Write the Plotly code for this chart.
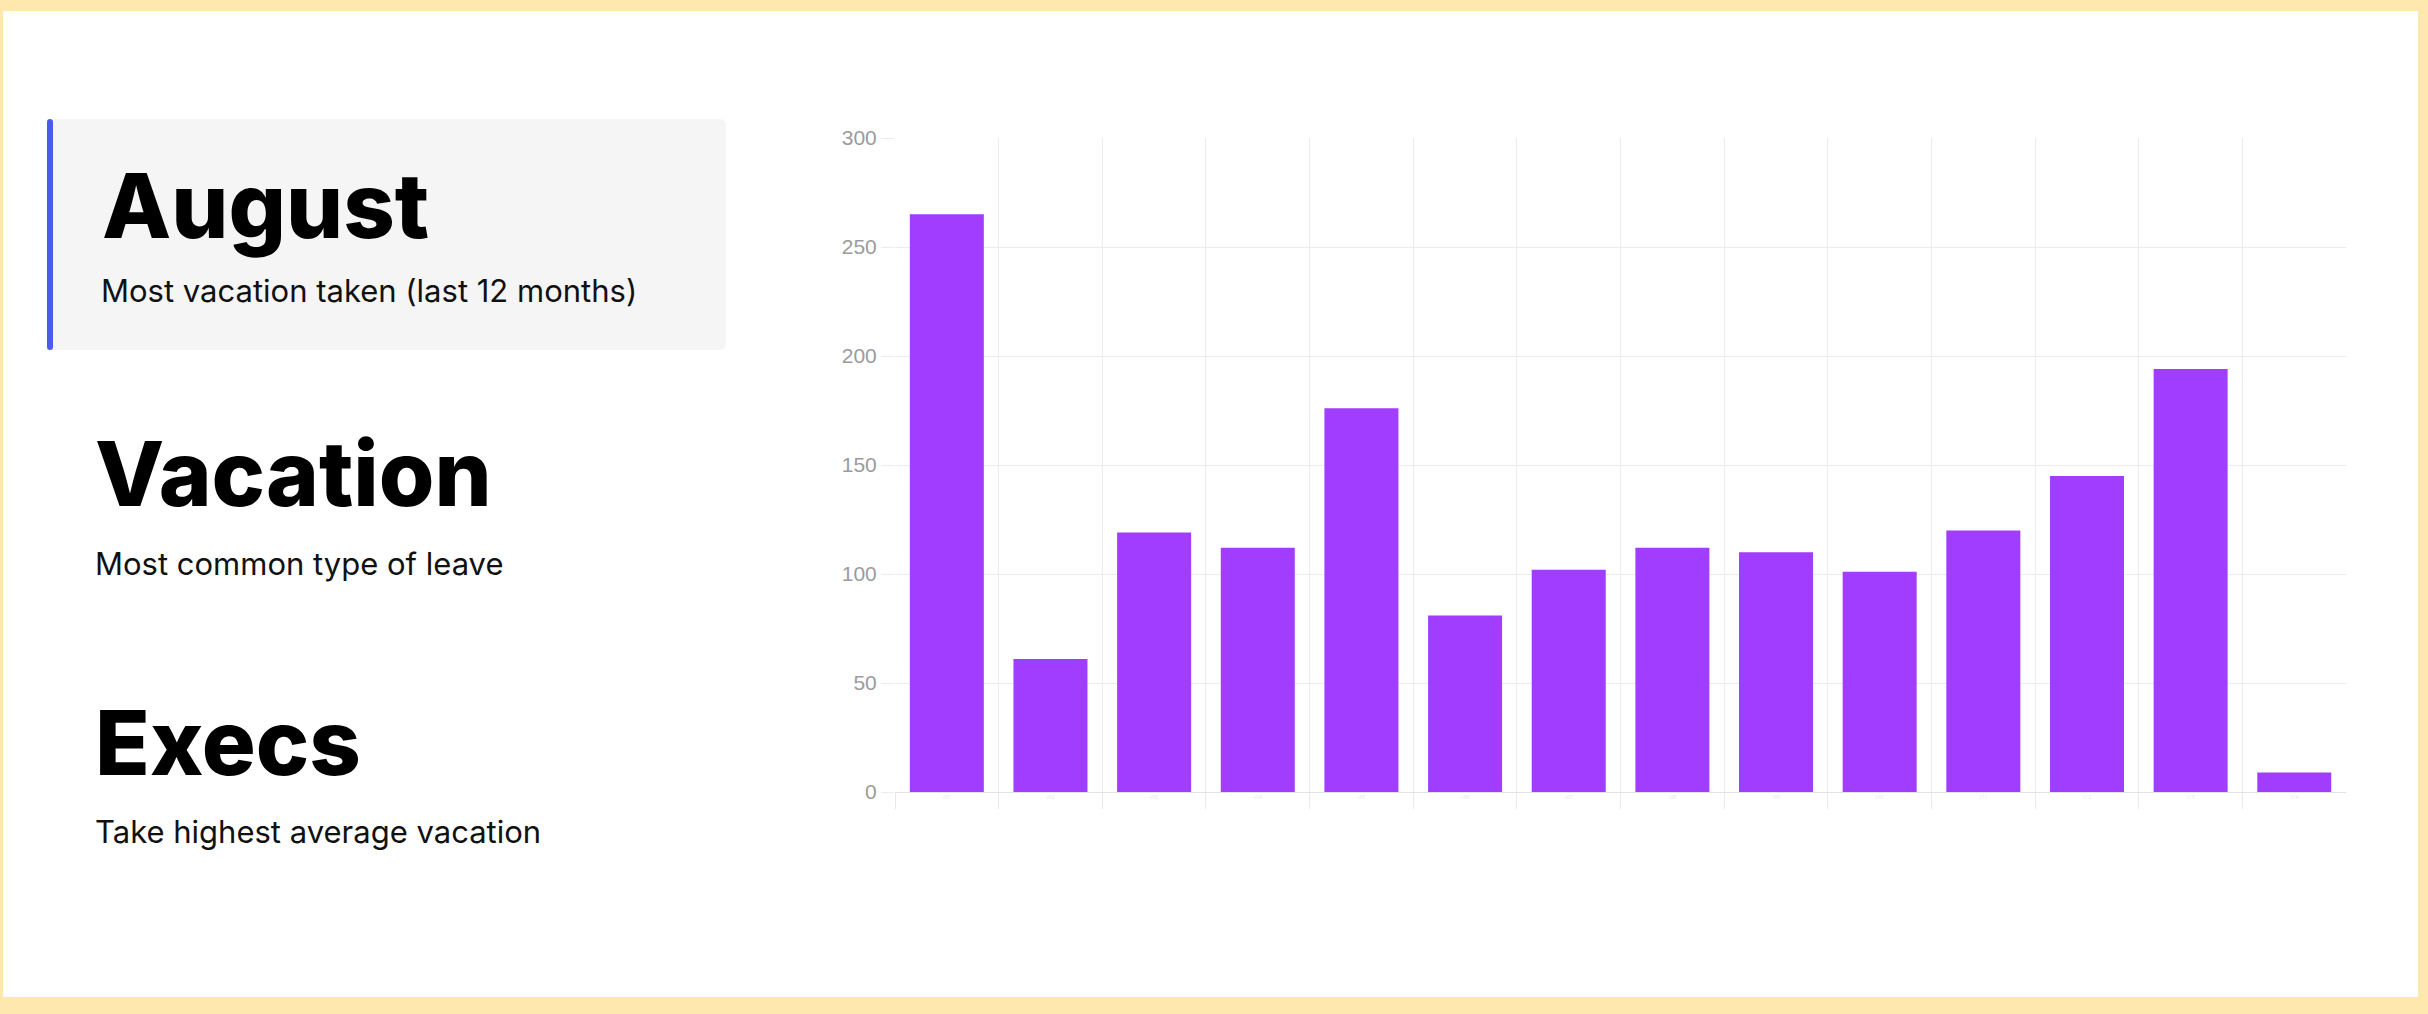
import plotly.graph_objects as go

# data
categories = ["c01", "c02", "c03", "c04", "c05", "c06", "c07",
              "c08", "c09", "c10", "c11", "c12", "c13", "c14"]
days_taken = [265, 61, 119, 112, 176, 81, 102, 112, 110, 101, 120, 145, 194, 9]

headlines = ["August", "Vacation", "Execs"]
sublines = ["Most vacation taken (last 12 months)",
            "Most common type of leave",
            "Take highest average vacation"]

W, H = 2428, 1014
PL, PR, PT, PB = 895, 2346, 138, 792  # plot area in pixels


def px(x):
    return (x - PL) / (PR - PL)


def py(y):
    return (PB - y) / (PB - PT)


def rounded_rect(x0, y0, x1, y1, r):
    # pixel box -> svg path in paper coords, corners rounded by r pixels
    pts = [
        f"M {px(x0 + r)},{py(y0)}",
        f"L {px(x1 - r)},{py(y0)}",
        f"Q {px(x1)},{py(y0)} {px(x1)},{py(y0 + r)}",
        f"L {px(x1)},{py(y1 - r)}",
        f"Q {px(x1)},{py(y1)} {px(x1 - r)},{py(y1)}",
        f"L {px(x0 + r)},{py(y1)}",
        f"Q {px(x0)},{py(y1)} {px(x0)},{py(y1 - r)}",
        f"L {px(x0)},{py(y0 + r)}",
        f"Q {px(x0)},{py(y0)} {px(x0 + r)},{py(y0)}",
        "Z",
    ]
    return " ".join(pts)


fig = go.Figure()
fig.add_trace(go.Bar(
    x=categories,
    y=days_taken,
    marker=dict(color="#a13dfe", line=dict(width=0)),
    hoverinfo="x+y",
))

shapes = [
    # white card inside the yellow frame
    dict(type="rect", xref="paper", yref="paper", layer="below",
         x0=px(3), x1=px(2418), y0=py(997), y1=py(11),
         fillcolor="white", line=dict(width=0)),
    # highlight box
    dict(type="path", xref="paper", yref="paper", layer="below",
         path=rounded_rect(48, 119, 726, 350, 7),
         fillcolor="#f5f5f5", line=dict(width=0)),
    dict(type="path", xref="paper", yref="paper", layer="below",
         path=rounded_rect(47, 119, 53, 350, 3),
         fillcolor="#4a5cf0", line=dict(width=0)),
]

head_pos = [(100, 205), (93, 473), (93, 742)]
sub_pos = [(99, 290), (93, 563), (93, 831)]
annotations = []
for text, (x, y) in zip(headlines, head_pos):
    annotations.append(dict(
        text=text, x=px(x), y=py(y), xref="paper", yref="paper",
        xanchor="left", yanchor="middle", showarrow=False,
        font=dict(family="Inter", size=90, color="#000000", weight=800),
    ))
for text, (x, y) in zip(sublines, sub_pos):
    annotations.append(dict(
        text=text, x=px(x), y=py(y), xref="paper", yref="paper",
        xanchor="left", yanchor="middle", showarrow=False,
        font=dict(family="Inter", size=31, color="#111111"),
    ))

fig.update_layout(
    width=W, height=H, autosize=False,
    margin=dict(l=PL, r=W - PR, t=PT, b=H - PB, pad=0),
    paper_bgcolor="#fee8ae",
    plot_bgcolor="rgba(0,0,0,0)",
    showlegend=False,
    bargap=0.286,
    shapes=shapes,
    annotations=annotations,
    xaxis=dict(
        type="category",
        range=[-0.5, 13.499],
        tickson="boundaries",
        ticks="outside", ticklen=16, tickcolor="#e9e9e9",
        showgrid=True, gridcolor="#ececec", gridwidth=1,
        showline=True, linecolor="#e2e2e2",
        tickfont=dict(size=5, color="#e4e4e4"),
    ),
    yaxis=dict(
        range=[0, 300], dtick=50,
        ticks="outside", ticklen=13, tickcolor="#ececec",
        showgrid=True, gridcolor="#ececec", gridwidth=1,
        zeroline=False,
        tickfont=dict(family="Liberation Sans", size=21, color="#9b9b9b"),
    ),
)

fig.write_html(
    "out.html",
    config={"displayModeBar": False},
    post_script="document.body.style.margin='0';document.body.style.overflow='hidden';",
)
